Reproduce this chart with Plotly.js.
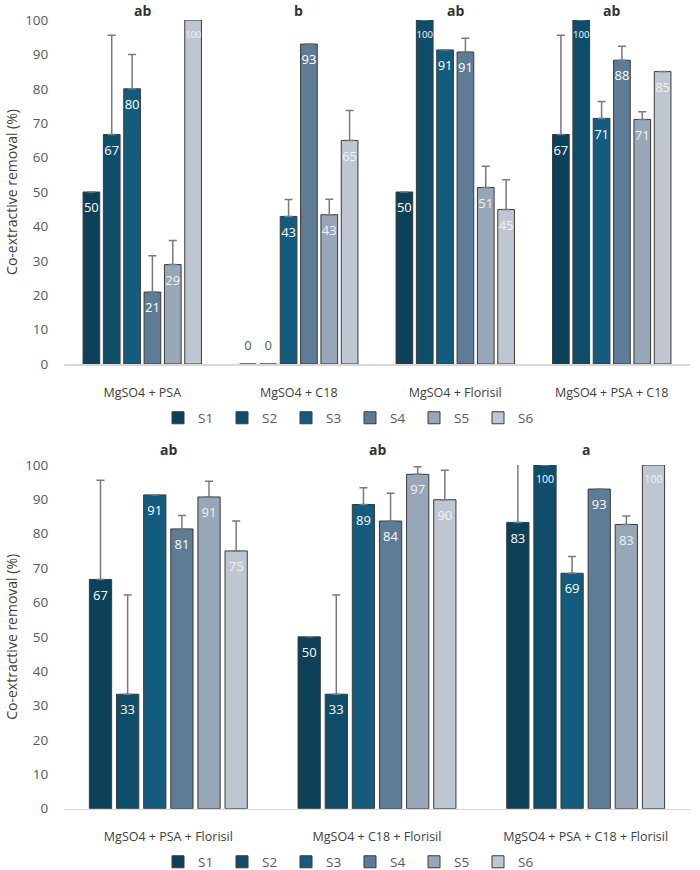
<!DOCTYPE html>
<html>
<head>
<meta charset="utf-8">
<script src="https://cdn.plot.ly/plotly-3.0.1.min.js"></script>
<style>html,body{margin:0;padding:0;background:#fff;}#chart{width:700px;height:870px;}</style>
</head>
<body>
<div id="chart"></div>
<script>
// ---- Data ----
var seriesNames = ['S1','S2','S3','S4','S5','S6'];

var categoriesTop = ['MgSO4 + PSA','MgSO4 + C18','MgSO4 + Florisil','MgSO4 + PSA + C18'];
var lettersTop = ['ab','b','ab','ab'];
var S1top = [50, 0, 50, 66.7];
var S2top = [66.7, 0, 100, 100];
var S3top = [80, 42.9, 91.3, 71.4];
var S4top = [20.9, 93, 90.7, 88.3];
var S5top = [28.9, 43.4, 51.3, 71.1];
var S6top = [100, 65, 44.9, 85];
var E1top = [null, null, null, 28.9];
var E2top = [28.9, null, null, null];
var E3top = [10, 4.9, null, 4.9];
var E4top = [10.6, null, 4, 4.1];
var E5top = [7, 4.5, 6.2, 2.2];
var E6top = [null, 8.7, 8.7, null];

var categoriesBot = ['MgSO4 + PSA + Florisil','MgSO4 + C18 + Florisil','MgSO4 + PSA + C18 + Florisil'];
var lettersBot = ['ab','ab','a'];
var S1bot = [66.7, 50, 83.3];
var S2bot = [33.3, 33.3, 100];
var S3bot = [91.3, 88.5, 68.5];
var S4bot = [81.4, 83.7, 93];
var S5bot = [90.7, 97.3, 82.7];
var S6bot = [75, 89.9, 100];
var E1bot = [28.9, null, 28.9];
var E2bot = [28.9, 28.9, null];
var E3bot = [null, 4.9, 4.9];
var E4bot = [3.9, 8.1, null];
var E5bot = [4.6, 2.2, 2.5];
var E6bot = [8.7, 8.6, null];

var colors = ['#0d4059','#0f4e6b','#145c7d','#5e7c96','#97a7b7','#bec7d1'];
var textColors = ['#ffffff','#ffffff','#ffffff','#ffffff','#f2f2f2','#f2f2f2'];

var FONT = 'Open Sans, Noto Sans, sans-serif';

var topVals = [S1top,S2top,S3top,S4top,S5top,S6top];
var topErrs = [E1top,E2top,E3top,E4top,E5top,E6top];
var botVals = [S1bot,S2bot,S3bot,S4bot,S5bot,S6bot];
var botErrs = [E1bot,E2bot,E3bot,E4bot,E5bot,E6bot];

function makeBar(name, cats, vals, errs, idx, xa, ya, leg) {
  return {
    type: 'bar', name: name, x: cats, y: vals,
    xaxis: xa, yaxis: ya, legend: leg,
    marker: {color: colors[idx], line: {color: '#3a3a3a', width: 1}},
    error_y: {type: 'data', symmetric: false, array: errs,
      arrayminus: errs.map(function(){return 0;}),
      color: '#7a7a7a', thickness: 1.5, width: 4},
    hoverinfo: 'name+y'
  };
}
function makeLabels(name, cats, vals, idx, xa, ya, big) {
  return {
    type: 'scatter', mode: 'markers+text', name: name, x: cats, y: vals,
    xaxis: xa, yaxis: ya, showlegend: false, cliponaxis: false,
    marker: {size: 15, opacity: 0},
    text: vals.map(function(v){ return String(Math.round(v)); }),
    textposition: vals.map(function(v){ return v === 0 ? 'top center' : 'bottom center'; }),
    textfont: {
      family: FONT,
      size: vals.map(function(v){ return Math.round(v) >= 100 ? (big ? 10.5 : 9.5) : 13; }),
      color: vals.map(function(v){ return v === 0 ? '#595959' : textColors[idx]; })
    },
    hoverinfo: 'skip'
  };
}

var data = [];
for (var i = 0; i < 6; i++) data.push(makeBar(seriesNames[i], categoriesTop, topVals[i], topErrs[i], i, 'x', 'y', 'legend'));
for (var j = 0; j < 6; j++) data.push(makeBar(seriesNames[j], categoriesBot, botVals[j], botErrs[j], j, 'x2', 'y2', 'legend2'));
for (var a = 0; a < 6; a++) data.push(makeLabels(seriesNames[a], categoriesTop, topVals[a], a, 'x', 'y', false));
for (var b = 0; b < 6; b++) data.push(makeLabels(seriesNames[b], categoriesBot, botVals[b], b, 'x2', 'y2', true));

var annotations = [];
categoriesTop.forEach(function(c, k){
  annotations.push({x: c, y: 100, xref: 'x', yref: 'y', text: '<b>' + lettersTop[k] + '</b>',
    showarrow: false, yanchor: 'top', yshift: 20, borderpad: 0, font: {size: 14, color: '#333333', family: FONT}});
});
categoriesBot.forEach(function(c, k){
  annotations.push({x: c, y: 100, xref: 'x2', yref: 'y2', text: '<b>' + lettersBot[k] + '</b>',
    showarrow: false, yanchor: 'bottom', yshift: 4, font: {size: 14, color: '#333333', family: FONT}});
});

var yaxisCommon = {
  range: [0, 100], dtick: 10, showgrid: false, zeroline: false, showline: false,
  ticks: 'outside', ticklen: 12, tickcolor: 'rgba(0,0,0,0)',
  tickfont: {size: 13.5, color: '#595959', family: FONT},
  title: {text: 'Co-extractive removal (%)', font: {size: 14, color: '#404040', family: FONT}, standoff: 4},
  fixedrange: true
};
var xaxisCommon = {
  showgrid: false, showline: true, linecolor: '#d9d9d9', linewidth: 1.5,
  ticks: 'outside', ticklen: 16, tickcolor: 'rgba(0,0,0,0)',
  tickfont: {size: 12.5, color: '#404040', family: FONT}, fixedrange: true
};

var legendCommon = {orientation: 'h', xref: 'paper', yref: 'paper', x: (350 - 64) / 626, xanchor: 'center',
  yanchor: 'middle', font: {size: 13.5, color: '#595959', family: FONT},
  itemwidth: 30, entrywidth: 19, entrywidthmode: 'pixels', tracegroupgap: 0};

var layout = {
  width: 700, height: 870,
  margin: {l: 64, r: 10, t: 0, b: 0, autoexpand: false},
  paper_bgcolor: '#ffffff', plot_bgcolor: '#ffffff',
  barmode: 'group', bargap: 0.22, bargroupgap: 0.18,
  scattermode: 'group', scattergap: 0.22,
  font: {family: FONT, color: '#404040'},
  showlegend: true,
  xaxis: Object.assign({}, xaxisCommon, {anchor: 'y', domain: [0, 1]}),
  yaxis: Object.assign({}, yaxisCommon, {anchor: 'x', domain: [0.5816, 0.977]}),
  xaxis2: Object.assign({}, xaxisCommon, {anchor: 'y2', domain: [0, 1]}),
  yaxis2: Object.assign({}, yaxisCommon, {anchor: 'x2', domain: [0.0705, 0.4655]}),
  legend: Object.assign({}, legendCommon, {y: 1 - 418/870}),
  legend2: Object.assign({}, legendCommon, {y: 1 - 862/870}),
  annotations: annotations
};

Plotly.newPlot('chart', data, layout, {displayModeBar: false, staticPlot: true});
</script>
</body>
</html>
